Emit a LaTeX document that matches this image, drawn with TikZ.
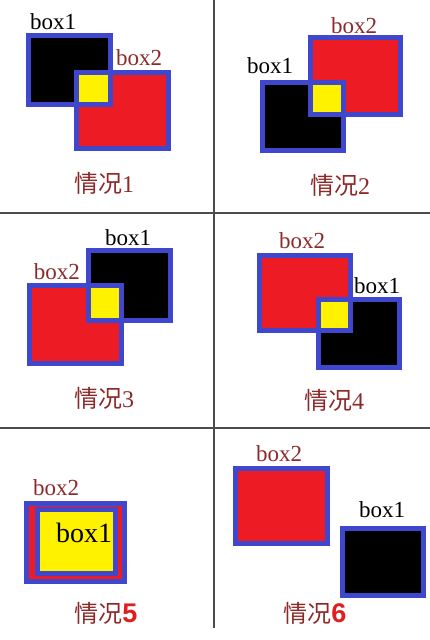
\documentclass[tikz,border=0pt]{standalone}
\usepackage{fontspec}
\setmainfont{Liberation Serif}
\newfontfamily\cjk{Noto Sans CJK SC}
\newfontfamily\digitfont{Liberation Sans}
\usetikzlibrary{positioning}
\definecolor{boxblue}{RGB}{63,72,204}
\definecolor{boxred}{RGB}{237,28,36}
\definecolor{boxyellow}{RGB}{255,242,0}
\definecolor{labelred}{RGB}{140,42,42}
\definecolor{digitred}{RGB}{225,30,30}
\tikzset{box/.style 2 args={rectangle,draw=boxblue,line width=5pt,inner sep=0pt,outer sep=0pt,
           minimum width=#1,minimum height=#2},
	 bone/.style={fill=black},
	 btwo/.style={fill=boxred},
	 meet/.style={draw=boxblue,fill=boxyellow,line width=5pt},
	 tone/.style={inner sep=0pt,text=black,font=\fontsize{23}{25}\selectfont},
	 ttwo/.style={inner sep=0pt,text=labelred,font=\fontsize{23}{25}\selectfont},
	 case/.style={inner sep=0pt,text=labelred,font=\fontsize{24}{27}\selectfont},
	 grid/.style={draw=black!70,line width=1.5pt}
	 }
\newcommand{\casebig}[1]{{\digitfont\bfseries\fontsize{27}{29}\selectfont\color{digitred}#1}}

\begin{document}
\begin{tikzpicture}[x=1pt,y=-1pt] % six cases of two boxes
	\useasboundingbox (0,0) rectangle (430,640);
	\coordinate (gl) at (0,213);
	\coordinate (gr) at (430,213);
	\coordinate (hl) at (0,428);
	\coordinate (hr) at (430,428);
	\coordinate (vt) at (214,0);
	\coordinate (vb) at (214,628);
	\draw[grid] (gl) -- (gr);
	\draw[grid] (hl) -- (hr);
	\draw[grid] (vt) -- (vb);

	% case 1
	\node[box={82pt}{69pt},bone] (c1a) at (69.5,70) {};
	\node[box={92pt}{76pt},btwo] (c1b) at (122.5,110.5) {};
	\draw[meet] (c1b.north west) rectangle (c1a.south east);
	\node[tone] (t1a) at (53,22) {box1};
	\node[ttwo] (t1b) at (139,58) {box2};
	\node[case] (n1) at (104,183) {{\cjk 情况}1};

	% case 2
	\node[box={81pt}{68pt},bone] (c2a) at (303,116.5) {};
	\node[box={90pt}{77pt},btwo] (c2b) at (355.5,76) {};
	\draw[meet] (c2b.west |- c2a.north) rectangle (c2a.east |- c2b.south);
	\node[tone] (t2a) at (270,66) {box1};
	\node[ttwo] (t2b) at (354,26) {box2};
	\node[case] (n2) at (340,185) {{\cjk 情况}2};

	% case 3
	\node[box={82pt}{70pt},bone] (c3a) at (129.5,285.5) {};
	\node[box={92pt}{78pt},btwo] (c3b) at (75.5,324.5) {};
	\draw[meet] (c3a.west |- c3b.north) rectangle (c3b.east |- c3a.south);
	\node[tone] (t3a) at (128,238) {box1};
	\node[ttwo] (t3b) at (57,272) {box2};
	\node[case] (n3) at (104,398) {{\cjk 情况}3};

	% case 4
	\node[box={91pt}{75pt},btwo] (c4b) at (305,293) {};
	\node[box={81pt}{68pt},bone] (c4a) at (359,333.5) {};
	\draw[meet] (c4a.north west) rectangle (c4b.south east);
	\node[ttwo] (t4b) at (302,241) {box2};
	\node[tone] (t4a) at (377,286) {box1};
	\node[case] (n4) at (334,400) {{\cjk 情况}4};

	% case 5
	\node[box={98pt}{78pt},btwo] (c5b) at (75.5,542.5) {};
	\node[box={78pt}{64pt},bone] (c5a) at (76.5,541.5) {};
	\draw[meet] (c5a.north west) rectangle (c5a.south east);
	\node[ttwo] (t5b) at (56,488) {box2};
	\node[tone,font=\fontsize{28}{30}\selectfont] (t5a) at (84,533) {box1};
	\node[case] (n5) at (106,613) {{\cjk 情况}\casebig{5}};

	% case 6
	\node[box={92pt}{75pt},btwo] (c6b) at (281.5,506) {};
	\node[box={81pt}{67pt},bone] (c6a) at (383,562) {};
	\node[ttwo] (t6b) at (279,454) {box2};
	\node[tone] (t6a) at (382,510) {box1};
	\node[case] (n6) at (315,613) {{\cjk 情况}\casebig{6}};
\end{tikzpicture}
\end{document}
